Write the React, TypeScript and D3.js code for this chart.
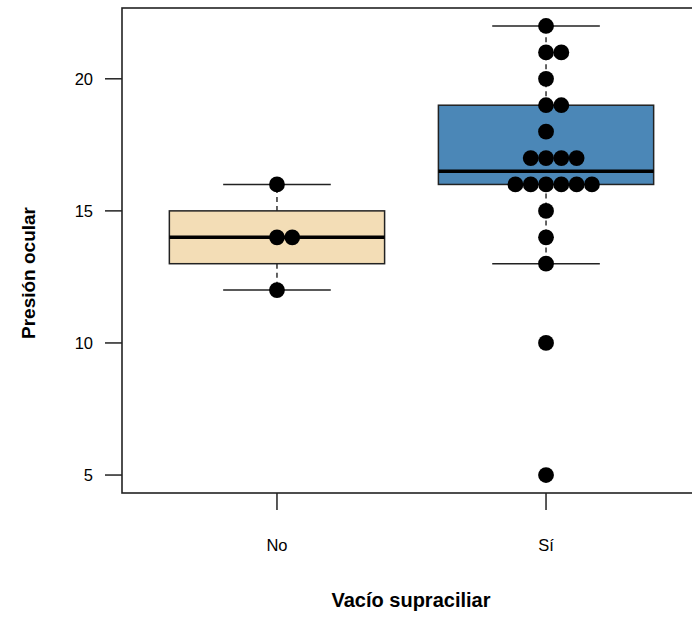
import React from "react";
import * as d3 from "d3";

const groups = ["No", "Sí"];
const noValues = [16, 14, 14, 12];
const siValues = [22, 21, 21, 20, 19, 19, 18, 17, 17, 17, 17, 16, 16, 16, 16, 16, 16, 15, 14, 13, 10, 5];
const groupValues = [noValues, siValues];
const fills = ["#f3ddb6", "#4b87b7"];
const yTicks = [5, 10, 15, 20];
const xTitle = "Vacío supraciliar";
const yTitle = "Presión ocular";

function fivenum(v: number[]) {
  const s = [...v].sort((a, b) => a - b);
  const n = s.length;
  const n4 = Math.floor((n + 3) / 2) / 2;
  const d = [1, n4, (n + 1) / 2, n + 1 - n4, n];
  return d.map((x) => 0.5 * (s[Math.floor(x) - 1] + s[Math.ceil(x) - 1]));
}

function boxStats(v: number[]) {
  const [mn, q1, med, q3, mx] = fivenum(v);
  const iqr = q3 - q1;
  const lo = q1 - 1.5 * iqr;
  const hi = q3 + 1.5 * iqr;
  const inside = v.filter((x) => x >= lo && x <= hi);
  return { q1, med, q3, wlo: d3.min(inside)!, whi: d3.max(inside)! };
}

export default function App() {
  const W = 692;
  const H = 617;
  const left = 122, top = 8, bottom = 493, right = 701;
  const y = d3.scaleLinear().domain([4.32, 22.68]).range([bottom, top]);
  const x = d3.scaleLinear().domain([0.424, 2.576]).range([left, right]);
  const spacing = 15.3;
  const r = 7.9;
  const ink = "#222";
  const font = "'Liberation Sans', Arial, Helvetica, sans-serif";

  return (
    <svg width={W} height={H} style={{ position: "absolute", left: 0, top: 0, background: "#fff" }}>
      {groupValues.map((vals, i) => {
        const s = boxStats(vals);
        const cx = x(i + 1);
        const bw = x(i + 1.4) - x(i + 1);
        const cw = x(i + 1.2) - x(i + 1);
        return (
          <g key={"box" + i}>
            <line x1={cx} x2={cx} y1={y(s.q3)} y2={y(s.whi)} stroke={ink} strokeWidth={1.4} strokeDasharray="5,4" />
            <line x1={cx} x2={cx} y1={y(s.q1)} y2={y(s.wlo)} stroke={ink} strokeWidth={1.4} strokeDasharray="5,4" />
            <line x1={cx - cw} x2={cx + cw} y1={y(s.whi)} y2={y(s.whi)} stroke={ink} strokeWidth={1.5} />
            <line x1={cx - cw} x2={cx + cw} y1={y(s.wlo)} y2={y(s.wlo)} stroke={ink} strokeWidth={1.5} />
            <rect x={cx - bw} y={y(s.q3)} width={2 * bw} height={y(s.q1) - y(s.q3)} fill={fills[i]} stroke={ink} strokeWidth={1.5} />
            <line x1={cx - bw} x2={cx + bw} y1={y(s.med)} y2={y(s.med)} stroke="#000" strokeWidth={3.6} />
          </g>
        );
      })}
      {groupValues.map((vals, i) => {
        const counts = d3.rollups(vals, (v) => v.length, (d) => d);
        const cx = x(i + 1);
        const pts: { px: number; py: number }[] = [];
        counts.forEach(([val, n]) => {
          const start = -Math.floor((n - 1) / 2);
          for (let k = 0; k < n; k++) {
            pts.push({ px: cx + (start + k) * spacing, py: y(val) });
          }
        });
        return (
          <g key={"pts" + i}>
            {pts.map((p, j) => (
              <circle key={j} cx={p.px} cy={p.py} r={r} fill="#000" />
            ))}
          </g>
        );
      })}
      <rect x={left} y={top} width={right - left} height={bottom - top} fill="none" stroke={ink} strokeWidth={1.6} />
      {yTicks.map((t) => (
        <g key={"yt" + t}>
          <line x1={left - 17} x2={left} y1={y(t)} y2={y(t)} stroke={ink} strokeWidth={1.5} />
          <text x={93} y={y(t)} dy="0.36em" textAnchor="end" fontFamily={font} fontSize={16.5} fill="#000">
            {t}
          </text>
        </g>
      ))}
      {groups.map((g, i) => (
        <g key={"xt" + g}>
          <line x1={x(i + 1)} x2={x(i + 1)} y1={bottom} y2={bottom + 17} stroke={ink} strokeWidth={1.5} />
          <text x={x(i + 1)} y={551} textAnchor="middle" fontFamily={font} fontSize={16.5} fill="#000">
            {g}
          </text>
        </g>
      ))}
      <text x={411} y={607} textAnchor="middle" fontFamily={font} fontSize={20} fontWeight="bold" fill="#000">
        {xTitle}
      </text>
      <text transform="translate(35,273) rotate(-90)" textAnchor="middle" fontFamily={font} fontSize={19} fontWeight="bold" fill="#000">
        {yTitle}
      </text>
    </svg>
  );
}
